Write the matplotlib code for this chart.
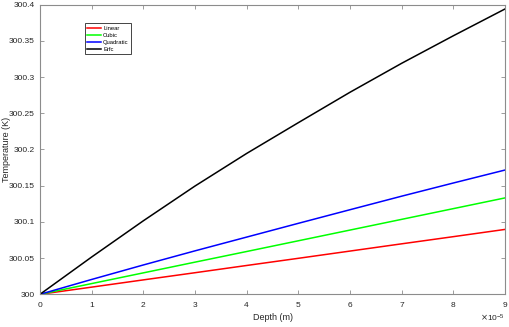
import matplotlib.pyplot as plt
import matplotlib.ticker as mticker
import numpy as np

plt.rcParams['font.family'] = ['Liberation Sans', 'DejaVu Sans']

# Données
depth = np.arange(10) * 1e-5
T_linear = 300 + np.array([0, 0.0099, 0.0199, 0.0298, 0.0398, 0.0497, 0.0597, 0.0697, 0.0796, 0.0896])
T_cubic = 300 + np.array([0, 0.0148, 0.0296, 0.0444, 0.0591, 0.0739, 0.0887, 0.1035, 0.1183, 0.1331])
T_quadratic = 300 + np.array([0, 0.0205, 0.0405, 0.0600, 0.0790, 0.0980, 0.1168, 0.1355, 0.1537, 0.1716])
T_erfc = 300 + np.array([0, 0.0515, 0.1015, 0.1495, 0.1945, 0.237, 0.279, 0.319, 0.357, 0.394])

fig = plt.figure(figsize=(5.1, 3.27), dpi=100)
ax = fig.add_axes([0.0784, 0.100, 0.912, 0.886])

ax.plot(depth, T_linear, color='#ff0000', lw=1.1, label='Linear')
ax.plot(depth, T_cubic, color='#00ff00', lw=1.1, label='Cubic')
ax.plot(depth, T_quadratic, color='#0000ff', lw=1.1, label='Quadratic')
ax.plot(depth, T_erfc, color='black', lw=1.1, label='Erfc')

ax.set_xlim(0, 9e-5)
ax.set_ylim(300, 300.4)
ax.set_yticks(np.arange(300, 300.41, 0.05))
ax.yaxis.set_major_formatter(mticker.FuncFormatter(lambda v, p: ('%.2f' % v).rstrip('0').rstrip('.')))

fmt = mticker.ScalarFormatter(useMathText=True)
fmt.set_powerlimits((-3, 3))
ax.xaxis.set_major_formatter(fmt)
ax.xaxis.get_offset_text().set_fontsize(6)
ax.xaxis.get_offset_text().set_color('#262626')

ax.set_xlabel('Depth (m)', fontsize=6.5, color='#262626')
ax.set_ylabel('Temperature (K)', fontsize=6.5, color='#262626')
ax.xaxis.set_label_coords(0.5, -0.066)
ax.yaxis.set_label_coords(-0.062, 0.5)

for s in ax.spines.values():
    s.set_color('#8c8c8c')
    s.set_linewidth(0.8)
ax.tick_params(direction='in', top=True, right=True, length=3, width=0.6,
               color='#8c8c8c', labelsize=6, labelcolor='#262626')
ax.tick_params(axis='x', pad=4)
ax.tick_params(axis='y', pad=4)

leg = ax.legend(loc='upper left', bbox_to_anchor=(0.09, 0.945), fontsize=4.2,
                handlelength=2.5, handletextpad=0.3, labelspacing=0.35,
                borderpad=0.35, fancybox=False, framealpha=1)
leg.get_frame().set_edgecolor('#262626')
leg.get_frame().set_linewidth(0.6)

fig.savefig('out.png', dpi=100)
